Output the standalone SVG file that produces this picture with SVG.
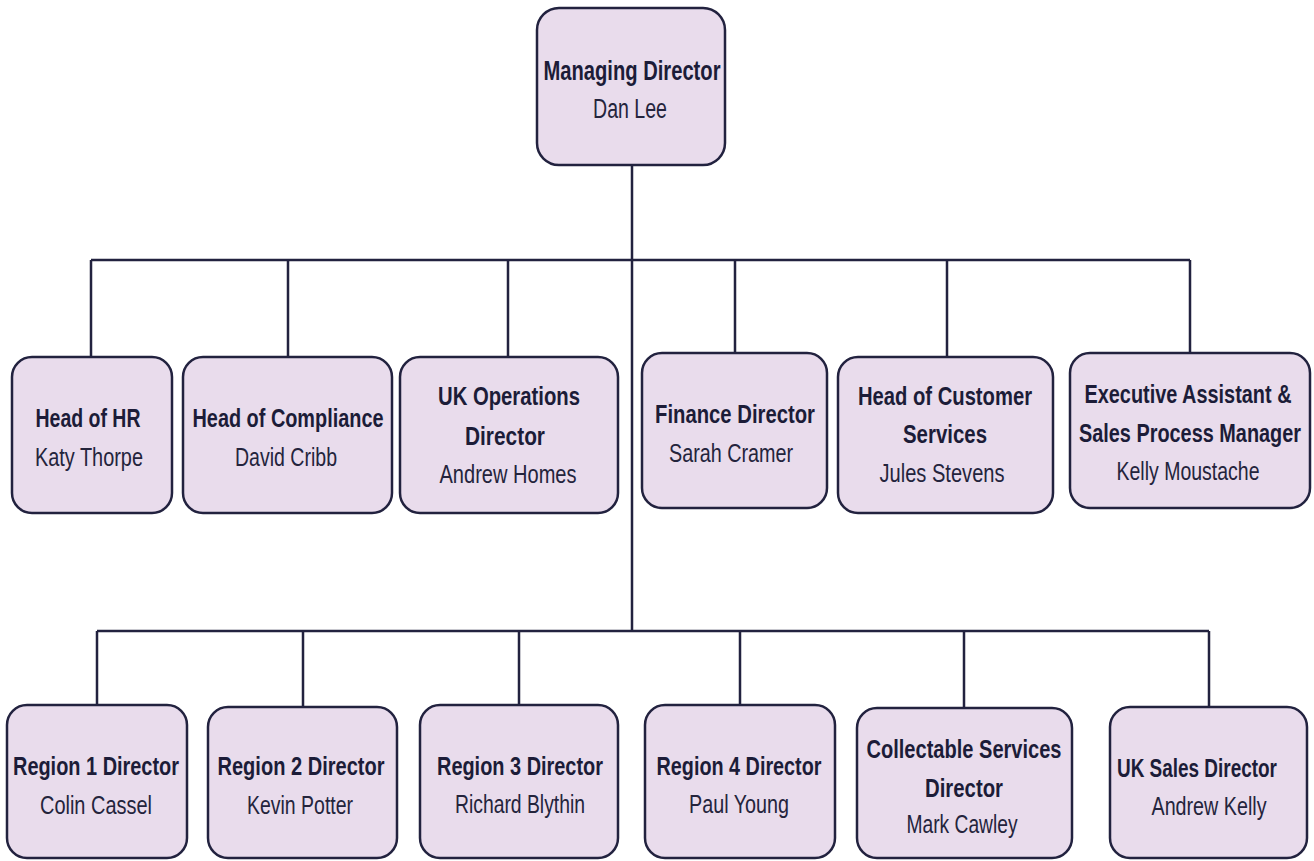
<svg xmlns="http://www.w3.org/2000/svg" width="1314" height="861" viewBox="0 0 1314 861">
<style>
.box{fill:#e9dcec;stroke:#22223f;stroke-width:2.5}
.t{font-family:"Liberation Sans Narrow","Liberation Sans",Arial,sans-serif;font-size:25px;font-weight:bold;fill:#1c1c38;text-anchor:middle}
.n{font-family:"Liberation Sans Narrow","Liberation Sans",Arial,sans-serif;font-size:25px;fill:#24243c;text-anchor:middle}
.big{font-size:27px}
.c{fill:none;stroke:#22223f;stroke-width:2.5}
</style>
<rect width="1314" height="861" fill="#ffffff"/>
<g id="connectors">
<path class="c" d="M632 165 V631"/>
<path class="c" d="M91 260 H1190"/>
<path class="c" d="M91 260 V357 M288 260 V357 M508 260 V357 M735 260 V353 M947 260 V357 M1190 260 V353"/>
<path class="c" d="M97 631 H1209"/>
<path class="c" d="M97 631 V705 M303 631 V707 M519 631 V705 M740 631 V705 M964 631 V708 M1209 631 V707"/>
</g>
<g id="md">
<rect class="box" x="537" y="8" width="188" height="157" rx="22"/>
<text class="t big" x="632" y="80" textLength="177" lengthAdjust="spacingAndGlyphs">Managing Director</text>
<text class="n big" x="630" y="118" textLength="74" lengthAdjust="spacingAndGlyphs">Dan Lee</text>
</g>
<g id="hr">
<rect class="box" x="12" y="357" width="160" height="156" rx="20"/>
<text class="t" x="88" y="427" textLength="105" lengthAdjust="spacingAndGlyphs">Head of HR</text>
<text class="n" x="89" y="466" textLength="108" lengthAdjust="spacingAndGlyphs">Katy Thorpe</text>
</g>
<g id="compliance">
<rect class="box" x="183" y="357" width="209" height="156" rx="20"/>
<text class="t" x="288" y="427" textLength="191" lengthAdjust="spacingAndGlyphs">Head of Compliance</text>
<text class="n" x="286" y="466" textLength="102" lengthAdjust="spacingAndGlyphs">David Cribb</text>
</g>
<g id="ukops">
<rect class="box" x="400" y="357" width="218" height="156" rx="20"/>
<text class="t" x="509" y="405" textLength="142" lengthAdjust="spacingAndGlyphs">UK Operations</text>
<text class="t" x="505" y="445" textLength="80" lengthAdjust="spacingAndGlyphs">Director</text>
<text class="n" x="508" y="483" textLength="137" lengthAdjust="spacingAndGlyphs">Andrew Homes</text>
</g>
<g id="finance">
<rect class="box" x="642" y="353" width="185" height="155" rx="20"/>
<text class="t" x="735" y="423" textLength="160" lengthAdjust="spacingAndGlyphs">Finance Director</text>
<text class="n" x="731" y="462" textLength="124" lengthAdjust="spacingAndGlyphs">Sarah Cramer</text>
</g>
<g id="customer">
<rect class="box" x="838" y="357" width="215" height="156" rx="20"/>
<text class="t" x="945" y="405" textLength="174" lengthAdjust="spacingAndGlyphs">Head of Customer</text>
<text class="t" x="945" y="443" textLength="84" lengthAdjust="spacingAndGlyphs">Services</text>
<text class="n" x="942" y="482" textLength="125" lengthAdjust="spacingAndGlyphs">Jules Stevens</text>
</g>
<g id="exec">
<rect class="box" x="1070" y="353" width="240" height="155" rx="20"/>
<text class="t" x="1188" y="403" textLength="207" lengthAdjust="spacingAndGlyphs">Executive Assistant &amp;</text>
<text class="t" x="1190" y="442" textLength="222" lengthAdjust="spacingAndGlyphs">Sales Process Manager</text>
<text class="n" x="1188" y="480" textLength="143" lengthAdjust="spacingAndGlyphs">Kelly Moustache</text>
</g>
<g id="region1">
<rect class="box" x="7" y="705" width="180" height="153" rx="20"/>
<text class="t" x="96" y="775" textLength="166" lengthAdjust="spacingAndGlyphs">Region 1 Director</text>
<text class="n" x="96" y="814" textLength="112" lengthAdjust="spacingAndGlyphs">Colin Cassel</text>
</g>
<g id="region2">
<rect class="box" x="208" y="707" width="189" height="151" rx="20"/>
<text class="t" x="301" y="775" textLength="167" lengthAdjust="spacingAndGlyphs">Region 2 Director</text>
<text class="n" x="300" y="814" textLength="106" lengthAdjust="spacingAndGlyphs">Kevin Potter</text>
</g>
<g id="region3">
<rect class="box" x="420" y="705" width="198" height="153" rx="20"/>
<text class="t" x="520" y="775" textLength="166" lengthAdjust="spacingAndGlyphs">Region 3 Director</text>
<text class="n" x="520" y="813" textLength="130" lengthAdjust="spacingAndGlyphs">Richard Blythin</text>
</g>
<g id="region4">
<rect class="box" x="645" y="705" width="190" height="153" rx="20"/>
<text class="t" x="739" y="775" textLength="165" lengthAdjust="spacingAndGlyphs">Region 4 Director</text>
<text class="n" x="739" y="813" textLength="100" lengthAdjust="spacingAndGlyphs">Paul Young</text>
</g>
<g id="collectable">
<rect class="box" x="857" y="708" width="215" height="150" rx="20"/>
<text class="t" x="964" y="758" textLength="195" lengthAdjust="spacingAndGlyphs">Collectable Services</text>
<text class="t" x="964" y="797" textLength="78" lengthAdjust="spacingAndGlyphs">Director</text>
<text class="n" x="962" y="833" textLength="111" lengthAdjust="spacingAndGlyphs">Mark  Cawley</text>
</g>
<g id="uksales">
<rect class="box" x="1110" y="707" width="197" height="151" rx="20"/>
<text class="t" x="1197" y="777" textLength="160" lengthAdjust="spacingAndGlyphs">UK Sales Director</text>
<text class="n" x="1209" y="815" textLength="115" lengthAdjust="spacingAndGlyphs">Andrew Kelly</text>
</g>
</svg>
